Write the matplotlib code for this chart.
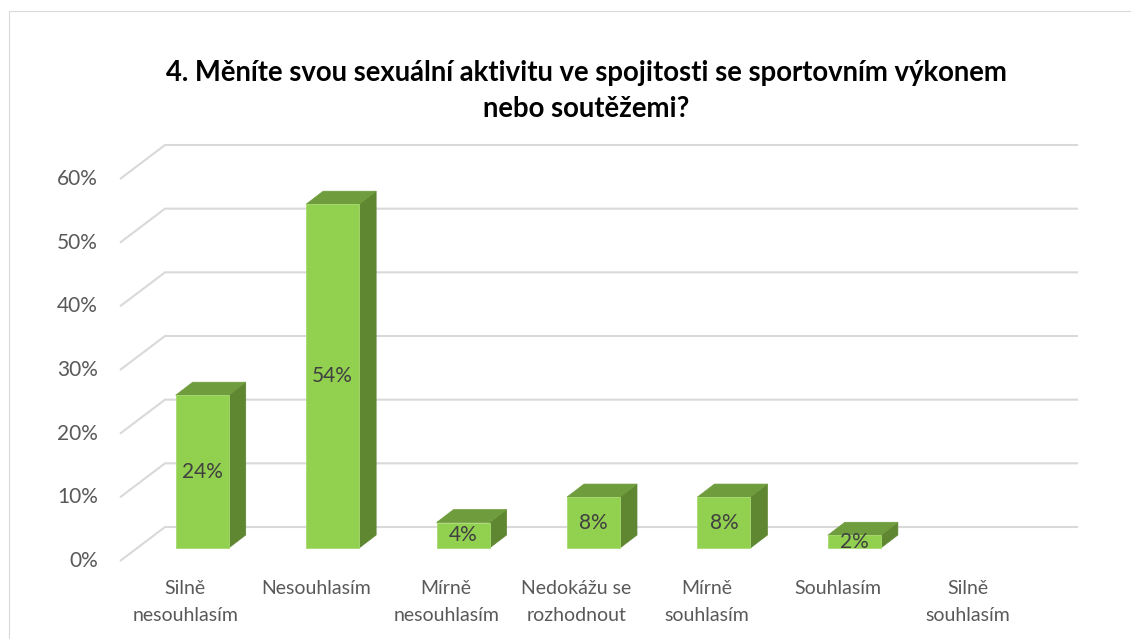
import matplotlib
matplotlib.use('Agg')
import matplotlib.pyplot as plt
from matplotlib.patches import Polygon, Rectangle

plt.rcParams['font.family'] = ['Lato', 'DejaVu Sans']

# data
categories = ['Silně\nnesouhlasím', 'Nesouhlasím', 'Mírně\nnesouhlasím',
              'Nedokážu se\nrozhodnout', 'Mírně\nsouhlasím', 'Souhlasím',
              'Silně\nsouhlasím']
values = [24, 54, 4, 8, 8, 2, 0]
yticks = [0, 10, 20, 30, 40, 50, 60]
title = '4. Měníte svou sexuální aktivitu ve spojitosti se sportovním výkonem\nnebo soutěžemi?'

W, H = 1131, 639
fig = plt.figure(figsize=(W / 100, H / 100), dpi=100)

# frame around the chart area (only top and left visible)
fig.add_artist(Rectangle((9 / W, -0.1), 1.2, 1 - 11 / H + 0.1, transform=fig.transFigure,
                         fill=False, edgecolor='#d9d9d9', lw=0.8))

# axes = plane of the bar front faces
ax_l, ax_b, ax_w, ax_h = 137, 548, 913, 382
ax = fig.add_axes([ax_l / W, 1 - ax_b / H, ax_w / W, ax_h / H])
ax.set_xlim(-0.5, 6.5)
ax.set_ylim(0, 60)
ax.axis('off')

sx = ax_w / 7.0
sy = ax_h / 60.0


def off(px, py):
    return px / sx, py / sy


fx, fy = off(-17, -13)   # front edge of floor
bx, by = off(28, 21)     # back wall
dx, dy = off(17, 13)     # bar depth
bw = 53 / sx             # bar width

grid_c = '#d9d9d9'
for v in yticks:
    ax.plot([-0.5 + fx, -0.5 + bx, 6.5 + bx], [v + fy, v + by, v + by],
            color=grid_c, lw=1.5, clip_on=False, zorder=1, solid_capstyle='butt')
    ax.text(-0.5 + fx - 22 / sx, v + fy, f'{v}%', ha='right', va='center',
            fontsize=15, color='#595959')

front_c = '#92d050'
top_c = '#6f9c3d'
side_c = '#5f8631'

for i, v in enumerate(values):
    if v <= 0:
        continue
    x0, x1 = i - bw / 2, i + bw / 2
    front = Polygon([(x0, 0), (x1, 0), (x1, v), (x0, v)], closed=True,
                    facecolor=front_c, edgecolor='#a6da6f', lw=0.6, zorder=3, clip_on=False)
    top = Polygon([(x0, v), (x1, v), (x1 + dx, v + dy), (x0 + dx, v + dy)], closed=True,
                  facecolor=top_c, edgecolor=top_c, lw=0.5, zorder=2, clip_on=False)
    side = Polygon([(x1, 0), (x1 + dx, dy), (x1 + dx, v + dy), (x1, v)], closed=True,
                   facecolor=side_c, edgecolor=side_c, lw=0.5, zorder=2, clip_on=False)
    for p in (side, top, front):
        ax.add_patch(p)
    ax.text(i, v / 2, f'{v}%', ha='center', va='center', fontsize=15,
            color='#404040', zorder=4)

for i, c in enumerate(categories):
    ax.text(i + fx, fy - 19 / sy, c, ha='center', va='top', fontsize=14,
            color='#595959', linespacing=1.72, clip_on=False)

fig.text(586 / W, 1 - 91 / H, title, ha='center', va='center', fontsize=19.8,
         fontweight='bold', color='black', linespacing=1.5)

fig.savefig('out.png', dpi=100, facecolor='white')
